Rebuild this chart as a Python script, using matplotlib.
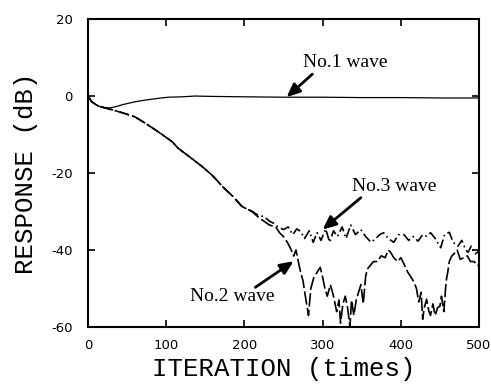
import matplotlib
matplotlib.use("Agg")
import matplotlib.pyplot as plt

plt.rcParams["axes.unicode_minus"] = False

# Data
w1_x = [0, 5, 10, 15, 20, 28, 35, 45, 60, 75, 90, 103, 120, 137, 160, 200, 250, 300, 350, 400, 450, 500]
w1_y = [0, -1.5, -2.2, -2.7, -3.0, -3.1, -2.8, -2.2, -1.5, -1.0, -0.6, -0.3, -0.2, 0.0, -0.1, -0.2, -0.3, -0.3, -0.4, -0.4, -0.5, -0.5]

common_x = [0, 5, 13, 28, 45, 60, 73, 90, 108, 115, 130, 146, 160, 172, 185, 197, 210]
common_y = [0, -1.5, -2.6, -3.4, -4.4, -5.4, -7.0, -9.3, -11.9, -13.5, -15.8, -18.3, -20.8, -23.5, -26.0, -28.7, -30.0]

w3_x = [218, 225, 232, 237, 243, 250, 256, 262, 267, 272, 277, 283, 288, 293, 298, 304, 309, 314, 319, 325,
        330, 336, 342, 349, 355, 362, 368, 373, 378, 384, 391, 397, 404, 410, 416, 422, 428, 433, 438, 444,
        451, 456, 462, 467, 473, 478, 483, 486, 490, 495, 500]
w3_y = [-31.0, -31.3, -32.5, -33.0, -34.0, -34.7, -34.0, -36.0, -34.5, -35.2, -37.0, -35.0, -38.0, -35.5, -37.5, -34.5, -38.0, -35.0, -36.5, -34.0,
        -37.0, -33.5, -36.0, -34.7, -36.5, -38.0, -37.0, -36.0, -35.5, -37.0, -38.0, -36.0, -36.0, -37.5, -36.5, -37.7, -36.0, -36.4, -35.5, -37.0,
        -39.4, -36.0, -35.4, -38.0, -39.0, -37.5, -40.0, -40.6, -39.0, -41.0, -40.3]

w2_x = [218, 225, 232, 240, 245, 250, 255, 260, 263, 266, 270, 272, 275, 278, 282, 285, 289, 293, 297, 300,
        303, 306, 310, 314, 318, 321, 323, 326, 329, 332, 335, 337, 340, 343, 346, 349, 352, 355, 357, 361,
        365, 370, 375, 380, 384, 387, 391, 396, 400, 405, 409, 413, 417, 420, 423, 426, 428, 430, 433, 436,
        438, 441, 444, 447, 450, 452, 455, 458, 460, 462, 465, 468, 472, 476, 481, 485, 489, 494, 497, 500]
w2_y = [-31.5, -32.5, -33.5, -34.0, -35.5, -36.5, -38.0, -40.0, -41.6, -40.0, -44.0, -45.8, -48.0, -52.0, -57.0, -50.0, -47.0, -45.8, -44.5, -47.0,
        -50.0, -52.0, -49.0, -52.0, -56.0, -53.0, -59.0, -54.0, -52.0, -55.0, -60.0, -53.0, -57.0, -53.0, -51.0, -49.0, -54.0, -47.0, -45.0, -44.0,
        -43.0, -43.0, -41.5, -42.0, -40.0, -40.6, -42.0, -43.0, -42.0, -44.0, -45.8, -47.0, -48.4, -50.0, -53.5, -51.0, -58.0, -55.0, -52.8, -56.0,
        -57.0, -54.0, -57.0, -55.0, -54.6, -52.0, -56.0, -48.0, -45.8, -43.0, -41.6, -41.0, -40.0, -42.4, -42.0, -41.5, -43.0, -43.0, -44.0, -44.0]

x_ticks = [0, 100, 200, 300, 400, 500]
y_ticks = [-60, -40, -20, 0, 20]

fig = plt.figure(figsize=(4.91, 3.89), dpi=100)
ax = fig.add_axes([0.179, 0.1594, 0.7966, 0.7916])

ax.plot(w1_x, w1_y, color="black", lw=0.9)
ax.plot(common_x + w2_x, common_y + w2_y, color="black", lw=1.2, dashes=(8, 2))
ax.plot(common_x + w3_x, common_y + w3_y, color="black", lw=1.2, dashes=(6, 2, 1, 2))

ax.set_xlim(0, 500)
ax.set_ylim(-60, 20)
ax.set_xticks(x_ticks)
ax.set_yticks(y_ticks)
ax.tick_params(direction="in", top=True, right=True, length=5, width=1.2, labelsize=9.5)
ax.tick_params(axis="x", pad=9)
ax.tick_params(axis="y", pad=11)
for s in ax.spines.values():
    s.set_linewidth(1.5)

lab_font = dict(family="Liberation Mono", fontsize=18.5)
ax.set_xlabel("ITERATION (times)", labelpad=3, **lab_font)
ax.set_ylabel("RESPONSE (dB)", labelpad=9, **lab_font)

tfont = dict(family="Liberation Serif", fontsize=14, ha="center", va="center")
arrow = dict(arrowstyle="-|>,head_width=0.35,head_length=0.8", lw=2, color="black",
             shrinkA=0, shrinkB=0)

ax.text(329, 8.6, "No.1 wave", **tfont)
ax.annotate("", xy=(254, -0.3), xytext=(287, 5.7), arrowprops=arrow)

ax.text(391, -23.5, "No.3 wave", **tfont)
ax.annotate("", xy=(300, -34.7), xytext=(349, -26.4), arrowprops=arrow)

ax.text(185, -52, "No.2 wave", **tfont)
ax.annotate("", xy=(263, -42.9), xytext=(214, -49.7), arrowprops=arrow)

fig.savefig("out.png", dpi=100)
